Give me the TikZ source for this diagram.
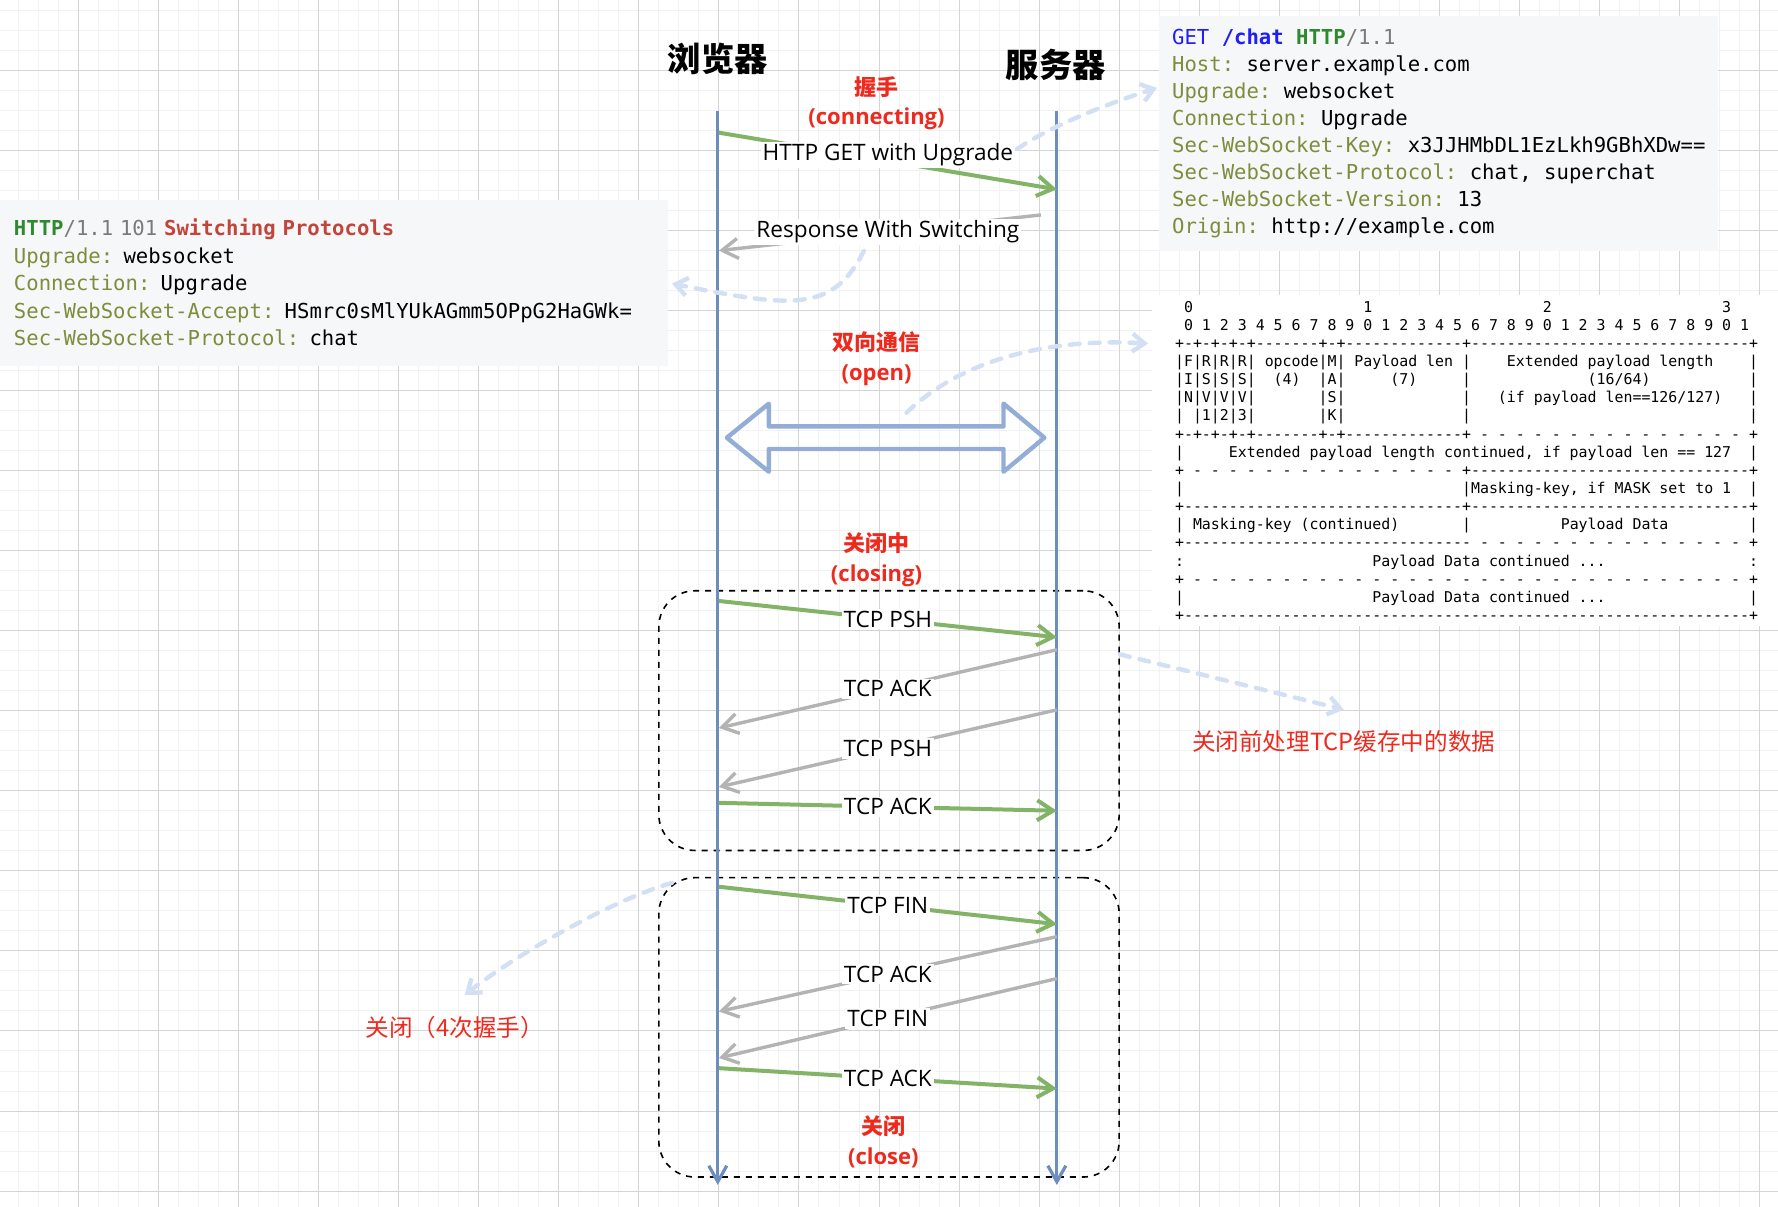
\documentclass[tikz,border=0pt]{standalone}
\usepackage{fontspec}
\setmainfont{Open Sans}
\setmonofont{DejaVu Sans Mono}
\newfontfamily\cjk{Noto Sans CJK SC}
\usetikzlibrary{arrows.meta,fit}

\definecolor{lifeblue}{HTML}{6C8EBF}
\definecolor{duplexblue}{HTML}{94ADD6}
\definecolor{msggreen}{HTML}{82B366}
\definecolor{msggray}{HTML}{B3B3B3}
\definecolor{notered}{HTML}{EE2A1F}
\definecolor{hintblue}{HTML}{D3E0F4}
\definecolor{codebg}{HTML}{F6F7F9}
\definecolor{keyolive}{HTML}{7F8C3C}
\definecolor{getblue}{HTML}{1E1EF5}
\definecolor{httpgreen}{HTML}{2F8A2F}
\definecolor{vergray}{HTML}{7A7A7A}
\definecolor{statusred}{HTML}{C2443A}
\definecolor{gridminor}{HTML}{F2F2F2}
\definecolor{gridmajor}{HTML}{D4D4D4}

\newcommand\hkey[1]{\textcolor{keyolive}{#1:}}
\newcommand\gap[1]{\hspace*{#1\fontcharwd\font`0}}
\ExplSyntaxOn
\NewExpandableDocumentCommand\rep{mm}{\prg_replicate:nn{#1}{#2}}
\ExplSyntaxOff

\begin{document}
\begin{tikzpicture}[x=0.567pt, y=-0.567pt,
    lifeline/.style={lifeblue, line width=1.6pt, -{Straight Barb[length=8pt,width=9pt]}},
    go/.style={msggreen, line width=2pt, -{Straight Barb[length=8pt,width=10pt]}},
    back/.style={msggray, line width=1.7pt, -{Straight Barb[length=8pt,width=10pt]}},
    msglabel/.style={fill=white, text=black, inner sep=1pt, font=\fontsize{11.3}{13}\selectfont},
    title/.style={font=\cjk\bfseries\fontsize{16.6}{20}\selectfont},
    phase/.style={notered, align=center, font=\fontsize{11}{14.7}\selectfont\bfseries},
    note/.style={notered, font=\cjk\fontsize{11.8}{14}\selectfont},
    hint/.style={hintblue, line width=2.2pt, line cap=round, dash pattern=on 5pt off 5pt,
      -{Straight Barb[length=6pt,width=9pt]}},
    phasebox/.style={draw, dashed, line width=0.8pt, rounded corners=18pt, inner sep=0pt},
    duplex/.style={draw=duplexblue, line width=2.2pt, line join=round},
    codebox/.style={fill=codebg, anchor=north west, align=left, inner ysep=0pt,
      font=\ttfamily\fontsize{10.3}{13.5}\selectfont},
  ]
  \useasboundingbox (0,0) rectangle (1568,1063.6);

  % background grid
  \foreach \i in {0,...,88} \draw[gridminor, line width=0.5pt] ({16.25+17.65*\i},0) -- ++(0,1064);
  \foreach \i in {0,...,60} \draw[gridminor, line width=0.5pt] (0,{9.05+17.65*\i}) -- ++(1568,0);
  \foreach \i in {0,...,21} \draw[gridmajor, line width=0.5pt] ({69.2+70.6*\i},0) -- ++(0,1064);
  \foreach \i in {0,...,14} \draw[gridmajor, line width=0.5pt] (0,{62+70.6*\i}) -- ++(1568,0);

  % headers
  \node[codebox, inner xsep=6.45pt, minimum height=117.4pt] (request) at (1022,14) {%
    \textcolor{getblue}{GET \textbf{/chat}} \textcolor{httpgreen}{\textbf{HTTP}}\textcolor{vergray}{/1.1}\\
    \hkey{Host} server.example.com\\
    \hkey{Upgrade} websocket\\
    \hkey{Connection} Upgrade\\
    \hkey{Sec-WebSocket-Key} x3JJHMbDL1EzLkh9GBhXDw==\\
    \hkey{Sec-WebSocket-Protocol} chat, superchat\\
    \hkey{Sec-WebSocket-Version} 13\\
    \hkey{Origin} http://example.com};
  \node[codebox, inner xsep=6.8pt, text width=320pt, minimum height=82.8pt,
    font=\ttfamily\fontsize{10.3}{13.75}\selectfont] (response) at (0,176) {%
    \textcolor{httpgreen}{\textbf{HTTP}}\textcolor{vergray}{/1.1 101} \textcolor{statusred}{\textbf{Switching Protocols}}\\
    \hkey{Upgrade} websocket\\
    \hkey{Connection} Upgrade\\
    \hkey{Sec-WebSocket-Accept} HSmrc0sMlYUkAGmm5OPpG2HaGWk=\\
    \hkey{Sec-WebSocket-Protocol} chat};

  % frame layout
  \node[codebox, fill=white, inner xsep=11.3pt, minimum height=165.6pt,
    font=\ttfamily\fontsize{7.45}{9.07}\selectfont] (frame) at (1016,260) {%
    \gap{1}0\gap{19}1\gap{19}2\gap{19}3\\
    \gap{1}0 1 2 3 4 5 6 7 8 9 0 1 2 3 4 5 6 7 8 9 0 1 2 3 4 5 6 7 8 9 0 1\\
    +-+-+-+-+\rep{7}{-}+-+\rep{13}{-}+\rep{31}{-}+\\
    |F|R|R|R| opcode|M| Payload len |\gap{4}Extended payload length\gap{4}|\\
    |I|S|S|S|\gap{2}(4)\gap{2}|A|\gap{5}(7)\gap{5}|\gap{13}(16/64)\gap{11}|\\
    |N|V|V|V|\gap{7}|S|\gap{13}|\gap{3}(if payload len==126/127)\gap{3}|\\
    |\gap{1}|1|2|3|\gap{7}|K|\gap{13}|\gap{31}|\\
    +-+-+-+-+\rep{7}{-}+-+\rep{13}{-}+\rep{15}{ -} +\\
    |\gap{5}Extended payload length continued, if payload len == 127\gap{2}|\\
    +\rep{15}{ -} +\rep{31}{-}+\\
    |\gap{31}|Masking-key, if MASK set to 1\gap{2}|\\
    +\rep{31}{-}+\rep{31}{-}+\\
    | Masking-key (continued)\gap{7}|\gap{10}Payload Data\gap{9}|\\
    +\rep{32}{-}\rep{15}{ -} +\\
    :\gap{21}Payload Data continued ...\gap{16}:\\
    +\rep{31}{ -} +\\
    |\gap{21}Payload Data continued ...\gap{16}|\\
    +\rep{63}{-}+};

  % phase frames
  \node[phasebox, fit={(581,521) (987,750)}] (closingbox) {};
  \node[phasebox, fit={(581,774) (987,1038)}] (closebox) {};

  % lifelines
  \node[title] (browser) at (633,52) {浏览器};
  \node[title] (server) at (931,57) {服务器};
  \coordinate (btop) at (633,98);
  \coordinate (bbot) at (633,1045);
  \coordinate (stop) at (932,98);
  \coordinate (sbot) at (932,1045);
  \draw[lifeline] (btop) -- (bbot);
  \draw[lifeline] (stop) -- (sbot);

  \foreach \n/\yb/\ys in {1/117/167, 2/221/188, 3/530/562, 4/642/573, 5/694/626,
      6/708/715, 7/782/815, 8/892/826, 9/933/863, 10/942/960} {
    \coordinate (b\n) at (634,\yb);
    \coordinate (s\n) at (932,\ys);
  }

  \node[phase] (connecting) at (773,91) {{\cjk 握手}\\(connecting)};
  \node[phase] (open) at (773,316.5) {{\cjk 双向通信}\\(open)};
  \node[phase] (closing) at (773,493.5) {{\cjk 关闭中}\\(closing)};
  \node[phase] (close) at (779,1007) {{\cjk 关闭}\\(close)};

  \draw[duplex] (641,386) -- (678,356) -- (678,376) -- (885,376) -- (885,356) -- (921,386)
    -- (885,416) -- (885,396) -- (678,396) -- (678,416) -- cycle;

  % messages
  \path
    (b1) edge[go] node[msglabel, yshift=3pt] (getlabel) {HTTP GET with Upgrade} (s1)
    (s2) edge[back, shorten <=8pt] node[msglabel] (switchlabel) {Response With Switching} (b2)
    (b3) edge[go] node[msglabel] (psh1) {TCP PSH} (s3)
    (s4) edge[back] node[msglabel] (ack1) {TCP ACK} (b4)
    (s5) edge[back] node[msglabel] (psh2) {TCP PSH} (b5)
    (b6) edge[go] node[msglabel] (ack2) {TCP ACK} (s6)
    (b7) edge[go] node[msglabel] (fin1) {TCP FIN} (s7)
    (s8) edge[back] node[msglabel] (ack3) {TCP ACK} (b8)
    (s9) edge[back] node[msglabel] (fin2) {TCP FIN} (b9)
    (b10) edge[go] node[msglabel] (ack4) {TCP ACK} (s10);

  \node[note] (flushnote) at (1185,654) {关闭前处理TCP缓存中的数据};
  \node[note] (wavenote) at (401,906) {关闭（4次握手）};

  % hints
  \draw[hint] ([yshift=3pt]getlabel.east) .. controls (925,112) and (975,92) .. ([xshift=-1pt,yshift=-36pt]request.north west);
  \draw[hint, shorten >=2pt] ([xshift=-12pt,yshift=-2pt]switchlabel.south) .. controls (735,275) and (700,272) .. (response.east);
  \draw[hint] ([xshift=15pt,yshift=-10pt]open.south) .. controls (850,315) and (930,298) .. ([xshift=-2pt,yshift=-24.4pt]frame.north west);
  \draw[hint] (closingbox.16) -- ([yshift=7pt]flushnote.north);
  \draw[hint] ([xshift=7pt,yshift=-3pt]closebox.north west) .. controls (545,792) and (460,838) .. ([xshift=5pt,yshift=7pt]wavenote.north);
\end{tikzpicture}
\end{document}
